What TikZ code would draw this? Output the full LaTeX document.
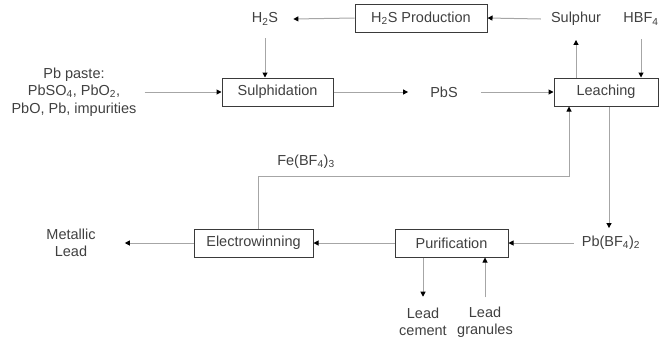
\documentclass[tikz,border=0pt]{standalone}
\usepackage{fontspec}
\setmainfont{Liberation Sans}
\usetikzlibrary{arrows.meta}
\definecolor{txt}{HTML}{404040}
\definecolor{flow}{HTML}{A6A6A6}
\definecolor{frame}{HTML}{3A3A3A}
\tikzset{
  unit/.style={draw=frame, line width=1pt, fill=white, text=txt, minimum height=28pt,
    inner sep=0pt, font=\fontsize{14.5}{17}\selectfont},
  label/.style={text=txt, inner sep=0pt, align=center, font=\fontsize{14.5}{17.5}\selectfont},
  flowline/.style={draw=flow, line width=1pt},
  feed/.style={flowline, -{Triangle[width=5pt,length=5pt,color=black]}}
}
\begin{document}
\begin{tikzpicture}[x=1pt,y=-1pt]
\useasboundingbox (0,0) rectangle (660,341);

% process units
\node[unit, minimum width=132pt] (prod) at (421,18) {H\textsubscript{2}S Production};
\node[unit, minimum width=111pt] (sulf) at (277.5,92) {Sulphidation};
\node[unit, minimum width=104pt] (leach) at (606,92) {Leaching};
\node[unit, minimum width=119pt] (ew) at (253.5,243) {Electrowinning};
\node[unit, minimum width=113pt] (pur) at (451.5,243) {Purification};

% streams
\node[label] (h2s) at (265,19) {H\textsubscript{2}S};
\node[label] (sul) at (576,19) {Sulphur};
\node[label] (hbf) at (641,19) {HBF\textsubscript{4}};
\node[label] (paste) at (74,92) {Pb paste:\\PbSO\textsubscript{4}, PbO\textsubscript{2},\\PbO, Pb, impurities};
\node[label] (pbs) at (444,92) {PbS};
\node[label] (fe) at (306,162) {Fe(BF\textsubscript{4})\textsubscript{3}};
\node[label] (metal) at (71,243) {Metallic\\Lead};
\node[label] (pbbf) at (611,243) {Pb(BF\textsubscript{4})\textsubscript{2}};
\node[label] (cem) at (423,322) {Lead\\cement};
\node[label] (gran) at (485,322) {Lead\\granules};

% connections
\draw[feed] (prod.west) -- ([xshift=15pt]h2s.east);
\draw[feed] ([xshift=-10pt]sul.west) -- (prod.east);
\draw[feed] ([yshift=-13pt]h2s.south) -- (h2s.south |- sulf.north);
\draw[feed] ([xshift=8pt]paste.east |- sulf.west) -- (sulf.west);
\draw[feed] (sulf.east) -- ([xshift=-22pt]pbs.west);
\draw[feed] ([xshift=23pt]pbs.east) -- (leach.west);
\draw[feed] (sul.south |- leach.north) -- ([yshift=-14pt]sul.south);
\draw[feed] ([yshift=-14pt]hbf.south) -- (hbf.south |- leach.north);
\draw[feed] ([xshift=3pt]leach.south) -- ([xshift=-2pt,yshift=8pt]pbbf.north);
\draw[feed] ([xshift=-8pt]pbbf.west) -- (pur.east);
\draw[feed] (pur.west) -- (ew.east);
\draw[feed] (ew.west) -- ([xshift=29pt]metal.east);
\draw[feed] ([xshift=4.5pt]ew.north) -- ++(0,-52) -| ([xshift=-37pt]leach.south);
\draw[feed] (cem.north |- pur.south) -- ([yshift=11pt]cem.north);
\draw[feed] ([yshift=9pt]gran.north) -- (gran.north |- pur.south);
\end{tikzpicture}
\end{document}
